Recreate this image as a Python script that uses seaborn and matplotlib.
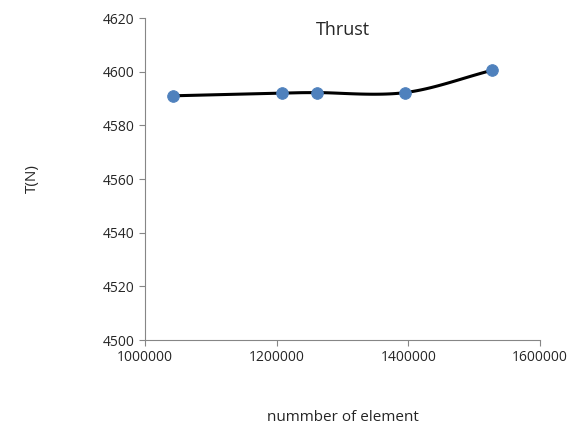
import numpy as np
import matplotlib
matplotlib.use("Agg")
import matplotlib.pyplot as plt
import seaborn as sns

# data
elements = [1042000, 1208000, 1261000, 1395000, 1527000]
thrust = [4591.0, 4592.0, 4592.2, 4592.2, 4600.5]

sns.set_style("white")
plt.rcParams['font.family'] = ['Open Sans', 'DejaVu Sans']


def catmull_rom(x, y, n=30):
    # smooth curve through the points, similar to Excel smoothed line
    x = np.asarray(x, float)
    y = np.asarray(y, float)
    px = np.concatenate([[2 * x[0] - x[1]], x, [2 * x[-1] - x[-2]]])
    py = np.concatenate([[2 * y[0] - y[1]], y, [2 * y[-1] - y[-2]]])
    xs, ys = [], []
    t = np.linspace(0, 1, n)
    for i in range(1, len(px) - 2):
        for arr, out in ((px, xs), (py, ys)):
            p0, p1, p2, p3 = arr[i - 1], arr[i], arr[i + 1], arr[i + 2]
            out.extend(0.5 * (2 * p1 + (-p0 + p2) * t
                              + (2 * p0 - 5 * p1 + 4 * p2 - p3) * t ** 2
                              + (-p0 + 3 * p1 - 3 * p2 + p3) * t ** 3))
    return np.array(xs), np.array(ys)


fig = plt.figure(figsize=(5.69, 4.29), dpi=100)
ax = fig.add_axes([145 / 569, 1 - 340 / 429, 395 / 569, 322 / 429])

sx, sy = catmull_rom(elements, thrust)
ax.plot(sx, sy, color='black', lw=2.2, zorder=2)
sns.scatterplot(x=elements, y=thrust, ax=ax, color='#4f81bd', s=70,
                edgecolor='#4f81bd', zorder=3)

ax.set_xlim(1000000, 1600000)
ax.set_ylim(4500, 4620)
ax.set_xticks([1000000, 1200000, 1400000, 1600000])
ax.set_yticks(range(4500, 4621, 20))
ax.ticklabel_format(style='plain', useOffset=False)
ax.tick_params(labelsize=10, length=4, direction='out', color='#868686',
               bottom=True, left=True)
for s in ['top', 'right']:
    ax.spines[s].set_visible(False)
for s in ['left', 'bottom']:
    ax.spines[s].set_color('#868686')

ax.set_xlabel('nummber of element', fontsize=11, labelpad=32)
ax.set_ylabel('T(N)', fontsize=11, labelpad=45)
ax.text(0.5, 0.99, 'Thrust', transform=ax.transAxes, ha='center', va='top',
        fontsize=13)

fig.savefig('out.png', dpi=100)
